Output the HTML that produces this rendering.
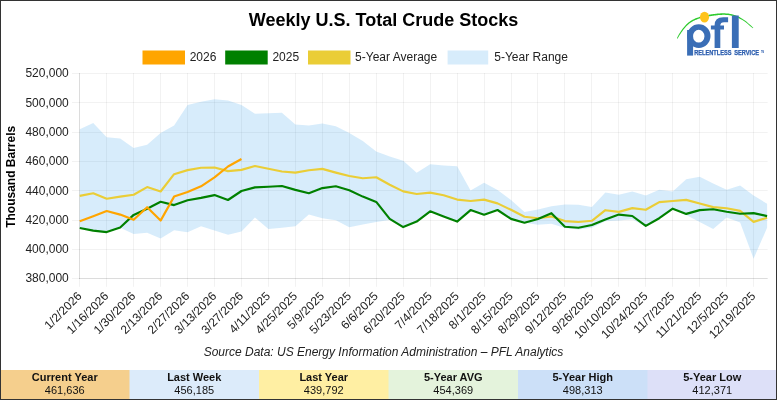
<!DOCTYPE html>
<html><head><meta charset="utf-8"><title>Weekly U.S. Total Crude Stocks</title>
<style>
html,body{margin:0;padding:0;background:#fff;}
body{width:777px;height:400px;overflow:hidden;position:relative;font-family:"Liberation Sans",sans-serif;}
svg{position:absolute;left:0;top:0;will-change:transform;}
svg text{font-family:"Liberation Sans",sans-serif;}
.frame{position:absolute;left:0;top:0;width:775px;height:398px;border:1px solid #333;border-right-width:1px;pointer-events:none;}
.foot{position:absolute;left:1px;top:370px;width:775px;height:29px;display:flex;}
.foot div{flex:1 1 0;text-align:center;font-size:12px;line-height:13px;color:#111;padding-top:1px;box-sizing:border-box;}
.foot b{display:block;font-size:12px;line-height:14px;}
</style></head><body>
<svg width="777" height="400" viewBox="0 0 777 400">
<rect width="777" height="400" fill="#fff"/>
<text x="383.5" y="26" text-anchor="middle" font-size="18" font-weight="bold" fill="#000">Weekly U.S. Total Crude Stocks</text>
<!-- legend -->
<rect x="142.5" y="50.5" width="42.5" height="14" fill="#FFA500"/>
<text x="189.7" y="61.3" font-size="12" fill="#222">2026</text>
<rect x="225.2" y="50.5" width="42.5" height="14" fill="#008000"/>
<text x="272.4" y="61.3" font-size="12" fill="#222">2025</text>
<rect x="308" y="50.5" width="42.5" height="14" fill="#EACD36"/>
<text x="355.1" y="61.3" font-size="12" fill="#222">5-Year Average</text>
<rect x="447.6" y="50.5" width="40.6" height="14" fill="#D7ECFB"/>
<text x="494.3" y="61.3" font-size="12" fill="#222">5-Year Range</text>
<text transform="translate(15,176.8) rotate(-90)" text-anchor="middle" font-size="12" font-weight="bold" fill="#000">Thousand Barrels</text>
<line x1="72.0" y1="73.50" x2="767.68" y2="73.50" stroke="rgba(0,0,0,0.05)" stroke-width="1"/>
<line x1="72.0" y1="102.50" x2="767.68" y2="102.50" stroke="rgba(0,0,0,0.05)" stroke-width="1"/>
<line x1="72.0" y1="132.50" x2="767.68" y2="132.50" stroke="rgba(0,0,0,0.05)" stroke-width="1"/>
<line x1="72.0" y1="161.50" x2="767.68" y2="161.50" stroke="rgba(0,0,0,0.05)" stroke-width="1"/>
<line x1="72.0" y1="190.50" x2="767.68" y2="190.50" stroke="rgba(0,0,0,0.05)" stroke-width="1"/>
<line x1="72.0" y1="220.50" x2="767.68" y2="220.50" stroke="rgba(0,0,0,0.05)" stroke-width="1"/>
<line x1="72.0" y1="249.50" x2="767.68" y2="249.50" stroke="rgba(0,0,0,0.05)" stroke-width="1"/>
<line x1="72.0" y1="278.50" x2="767.68" y2="278.50" stroke="rgba(0,0,0,0.05)" stroke-width="1"/>
<line x1="79.50" y1="73.0" x2="79.50" y2="286.8" stroke="rgba(0,0,0,0.05)" stroke-width="1"/>
<line x1="106.50" y1="73.0" x2="106.50" y2="286.8" stroke="rgba(0,0,0,0.05)" stroke-width="1"/>
<line x1="133.50" y1="73.0" x2="133.50" y2="286.8" stroke="rgba(0,0,0,0.05)" stroke-width="1"/>
<line x1="160.50" y1="73.0" x2="160.50" y2="286.8" stroke="rgba(0,0,0,0.05)" stroke-width="1"/>
<line x1="187.50" y1="73.0" x2="187.50" y2="286.8" stroke="rgba(0,0,0,0.05)" stroke-width="1"/>
<line x1="214.50" y1="73.0" x2="214.50" y2="286.8" stroke="rgba(0,0,0,0.05)" stroke-width="1"/>
<line x1="241.50" y1="73.0" x2="241.50" y2="286.8" stroke="rgba(0,0,0,0.05)" stroke-width="1"/>
<line x1="268.50" y1="73.0" x2="268.50" y2="286.8" stroke="rgba(0,0,0,0.05)" stroke-width="1"/>
<line x1="295.50" y1="73.0" x2="295.50" y2="286.8" stroke="rgba(0,0,0,0.05)" stroke-width="1"/>
<line x1="322.50" y1="73.0" x2="322.50" y2="286.8" stroke="rgba(0,0,0,0.05)" stroke-width="1"/>
<line x1="349.50" y1="73.0" x2="349.50" y2="286.8" stroke="rgba(0,0,0,0.05)" stroke-width="1"/>
<line x1="376.50" y1="73.0" x2="376.50" y2="286.8" stroke="rgba(0,0,0,0.05)" stroke-width="1"/>
<line x1="403.50" y1="73.0" x2="403.50" y2="286.8" stroke="rgba(0,0,0,0.05)" stroke-width="1"/>
<line x1="430.50" y1="73.0" x2="430.50" y2="286.8" stroke="rgba(0,0,0,0.05)" stroke-width="1"/>
<line x1="457.50" y1="73.0" x2="457.50" y2="286.8" stroke="rgba(0,0,0,0.05)" stroke-width="1"/>
<line x1="484.50" y1="73.0" x2="484.50" y2="286.8" stroke="rgba(0,0,0,0.05)" stroke-width="1"/>
<line x1="511.50" y1="73.0" x2="511.50" y2="286.8" stroke="rgba(0,0,0,0.05)" stroke-width="1"/>
<line x1="537.50" y1="73.0" x2="537.50" y2="286.8" stroke="rgba(0,0,0,0.05)" stroke-width="1"/>
<line x1="564.50" y1="73.0" x2="564.50" y2="286.8" stroke="rgba(0,0,0,0.05)" stroke-width="1"/>
<line x1="591.50" y1="73.0" x2="591.50" y2="286.8" stroke="rgba(0,0,0,0.05)" stroke-width="1"/>
<line x1="618.50" y1="73.0" x2="618.50" y2="286.8" stroke="rgba(0,0,0,0.05)" stroke-width="1"/>
<line x1="645.50" y1="73.0" x2="645.50" y2="286.8" stroke="rgba(0,0,0,0.05)" stroke-width="1"/>
<line x1="672.50" y1="73.0" x2="672.50" y2="286.8" stroke="rgba(0,0,0,0.05)" stroke-width="1"/>
<line x1="699.50" y1="73.0" x2="699.50" y2="286.8" stroke="rgba(0,0,0,0.05)" stroke-width="1"/>
<line x1="726.50" y1="73.0" x2="726.50" y2="286.8" stroke="rgba(0,0,0,0.05)" stroke-width="1"/>
<line x1="753.50" y1="73.0" x2="753.50" y2="286.8" stroke="rgba(0,0,0,0.05)" stroke-width="1"/>
<line x1="79.5" y1="73.0" x2="79.5" y2="279.0" stroke="rgba(0,0,0,0.09)" stroke-width="1"/>
<line x1="79.0" y1="278.5" x2="767.68" y2="278.5" stroke="rgba(0,0,0,0.09)" stroke-width="1"/>
<polygon points="79.75,129.30 93.23,123.10 106.70,137.30 120.18,138.50 133.66,148.10 147.13,144.70 160.61,133.10 174.09,125.40 187.57,105.10 201.04,101.70 214.52,99.20 228.00,100.40 241.47,105.10 254.95,113.80 268.43,113.30 281.90,112.80 295.38,124.60 308.86,125.40 322.34,123.60 335.81,126.20 349.29,133.10 362.77,141.10 376.24,151.40 389.72,156.60 403.20,160.70 416.68,172.80 430.15,164.30 443.63,165.60 457.11,166.30 470.58,190.50 484.06,182.80 497.54,190.00 511.01,200.00 524.49,211.90 537.97,209.60 551.44,206.30 564.92,204.50 578.40,204.80 591.88,207.00 605.35,192.50 618.83,194.70 632.31,191.40 645.78,195.60 659.26,189.70 672.74,191.60 686.22,179.30 699.69,176.80 713.17,183.50 726.65,189.70 740.12,185.50 753.60,195.60 767.08,203.70 767.08,227.80 753.60,258.70 740.12,222.60 726.65,217.40 713.17,229.00 699.69,222.00 686.22,215.00 672.74,208.70 659.26,218.20 645.78,226.70 632.31,219.30 618.83,220.60 605.35,221.30 591.88,227.70 578.40,229.40 564.92,228.00 551.44,223.80 537.97,224.80 524.49,222.70 511.01,219.00 497.54,210.00 484.06,214.70 470.58,210.10 457.11,221.60 443.63,216.60 430.15,211.30 416.68,221.60 403.20,227.20 389.72,220.00 376.24,222.00 362.77,224.60 349.29,227.20 335.81,220.30 322.34,218.20 308.86,214.40 295.38,226.20 281.90,227.70 268.43,229.00 254.95,217.50 241.47,231.40 228.00,234.80 214.52,230.40 201.04,226.30 187.57,232.20 174.09,230.20 160.61,238.60 147.13,232.70 133.66,234.00 120.18,227.80 106.70,232.50 93.23,230.70 79.75,228.10" fill="rgba(54,162,235,0.2)"/>
<polyline points="79.75,195.90 93.23,193.30 106.70,198.70 120.18,196.60 133.66,194.80 147.13,187.10 160.61,191.50 174.09,174.20 187.57,170.10 201.04,167.80 214.52,167.50 228.00,171.10 241.47,169.90 254.95,166.00 268.43,168.70 281.90,171.50 295.38,172.60 308.86,170.20 322.34,168.90 335.81,172.60 349.29,176.00 362.77,178.20 376.24,177.30 389.72,184.80 403.20,191.40 416.68,194.00 430.15,192.60 443.63,195.20 457.11,199.60 470.58,201.00 484.06,199.60 497.54,203.40 511.01,209.80 524.49,216.80 537.97,218.20 551.44,216.40 564.92,221.10 578.40,222.00 591.88,220.80 605.35,210.20 618.83,211.90 632.31,208.10 645.78,209.80 659.26,202.10 672.74,201.00 686.22,199.90 699.69,203.50 713.17,207.10 726.65,208.20 740.12,210.90 753.60,221.90 767.08,217.80" fill="none" stroke="#EACD36" stroke-width="2.15" stroke-linejoin="round" stroke-linecap="butt"/>
<polyline points="79.75,228.00 93.23,230.60 106.70,232.10 120.18,227.50 133.66,214.90 147.13,208.70 160.61,201.80 174.09,205.10 187.57,200.20 201.04,197.90 214.52,195.10 228.00,200.00 241.47,191.00 254.95,187.40 268.43,186.70 281.90,186.00 295.38,189.90 308.86,193.20 322.34,188.10 335.81,186.30 349.29,190.20 362.77,196.60 376.24,201.90 389.72,218.80 403.20,227.10 416.68,221.60 430.15,211.30 443.63,216.60 457.11,221.60 470.58,210.10 484.06,214.70 497.54,210.00 511.01,218.90 524.49,222.70 537.97,219.00 551.44,213.20 564.92,226.80 578.40,227.80 591.88,225.00 605.35,219.50 618.83,214.60 632.31,216.00 645.78,225.90 659.26,218.20 672.74,208.70 686.22,213.90 699.69,210.10 713.17,209.30 726.65,211.70 740.12,213.70 753.60,213.10 767.08,216.10" fill="none" stroke="#008000" stroke-width="2.15" stroke-linejoin="round" stroke-linecap="butt"/>
<polyline points="79.75,221.30 93.23,216.20 106.70,211.00 120.18,214.60 133.66,219.80 147.13,207.20 160.61,220.60 174.09,196.60 187.57,192.00 201.04,186.30 214.52,177.30 228.00,166.50 241.47,159.00" fill="none" stroke="#FFA500" stroke-width="2.15" stroke-linejoin="round" stroke-linecap="butt"/>
<text x="68.8" y="77.44" text-anchor="end" font-size="12" fill="#222">520,000</text>
<text x="68.8" y="106.73" text-anchor="end" font-size="12" fill="#222">500,000</text>
<text x="68.8" y="136.01" text-anchor="end" font-size="12" fill="#222">480,000</text>
<text x="68.8" y="165.30" text-anchor="end" font-size="12" fill="#222">460,000</text>
<text x="68.8" y="194.58" text-anchor="end" font-size="12" fill="#222">440,000</text>
<text x="68.8" y="223.87" text-anchor="end" font-size="12" fill="#222">420,000</text>
<text x="68.8" y="253.15" text-anchor="end" font-size="12" fill="#222">400,000</text>
<text x="68.8" y="282.44" text-anchor="end" font-size="12" fill="#222">380,000</text>
<text transform="translate(82.35,296.89) rotate(-45)" text-anchor="end" font-size="12" fill="#222">1/2/2026</text>
<text transform="translate(109.30,296.89) rotate(-45)" text-anchor="end" font-size="12" fill="#222">1/16/2026</text>
<text transform="translate(136.26,296.89) rotate(-45)" text-anchor="end" font-size="12" fill="#222">1/30/2026</text>
<text transform="translate(163.21,296.89) rotate(-45)" text-anchor="end" font-size="12" fill="#222">2/13/2026</text>
<text transform="translate(190.17,296.89) rotate(-45)" text-anchor="end" font-size="12" fill="#222">2/27/2026</text>
<text transform="translate(217.12,296.89) rotate(-45)" text-anchor="end" font-size="12" fill="#222">3/13/2026</text>
<text transform="translate(244.07,296.89) rotate(-45)" text-anchor="end" font-size="12" fill="#222">3/27/2026</text>
<text transform="translate(271.03,296.89) rotate(-45)" text-anchor="end" font-size="12" fill="#222">4/11/2025</text>
<text transform="translate(297.98,296.89) rotate(-45)" text-anchor="end" font-size="12" fill="#222">4/25/2025</text>
<text transform="translate(324.94,296.89) rotate(-45)" text-anchor="end" font-size="12" fill="#222">5/9/2025</text>
<text transform="translate(351.89,296.89) rotate(-45)" text-anchor="end" font-size="12" fill="#222">5/23/2025</text>
<text transform="translate(378.84,296.89) rotate(-45)" text-anchor="end" font-size="12" fill="#222">6/6/2025</text>
<text transform="translate(405.80,296.89) rotate(-45)" text-anchor="end" font-size="12" fill="#222">6/20/2025</text>
<text transform="translate(432.75,296.89) rotate(-45)" text-anchor="end" font-size="12" fill="#222">7/4/2025</text>
<text transform="translate(459.71,296.89) rotate(-45)" text-anchor="end" font-size="12" fill="#222">7/18/2025</text>
<text transform="translate(486.66,296.89) rotate(-45)" text-anchor="end" font-size="12" fill="#222">8/1/2025</text>
<text transform="translate(513.61,296.89) rotate(-45)" text-anchor="end" font-size="12" fill="#222">8/15/2025</text>
<text transform="translate(540.57,296.89) rotate(-45)" text-anchor="end" font-size="12" fill="#222">8/29/2025</text>
<text transform="translate(567.52,296.89) rotate(-45)" text-anchor="end" font-size="12" fill="#222">9/12/2025</text>
<text transform="translate(594.48,296.89) rotate(-45)" text-anchor="end" font-size="12" fill="#222">9/26/2025</text>
<text transform="translate(621.43,296.89) rotate(-45)" text-anchor="end" font-size="12" fill="#222">10/10/2025</text>
<text transform="translate(648.38,296.89) rotate(-45)" text-anchor="end" font-size="12" fill="#222">10/24/2025</text>
<text transform="translate(675.34,296.89) rotate(-45)" text-anchor="end" font-size="12" fill="#222">11/7/2025</text>
<text transform="translate(702.29,296.89) rotate(-45)" text-anchor="end" font-size="12" fill="#222">11/21/2025</text>
<text transform="translate(729.25,296.89) rotate(-45)" text-anchor="end" font-size="12" fill="#222">12/5/2025</text>
<text transform="translate(756.20,296.89) rotate(-45)" text-anchor="end" font-size="12" fill="#222">12/19/2025</text>
<text x="383.5" y="356.2" text-anchor="middle" font-size="12" font-style="italic" fill="#222">Source Data: US Energy Information Administration – PFL Analytics</text>
<g id="logo">
<polygon points="676.96,38.37 677.15,37.81 677.48,37.11 677.90,36.26 678.39,35.32 678.95,34.33 679.57,33.32 680.27,32.25 681.05,31.08 681.90,29.85 682.79,28.62 683.68,27.45 684.54,26.40 685.38,25.46 686.22,24.58 687.06,23.77 687.91,23.02 688.75,22.31 689.60,21.65 690.45,21.04 691.31,20.50 692.16,20.01 693.01,19.56 693.86,19.14 694.70,18.74 695.55,18.36 696.40,18.01 697.25,17.69 698.10,17.40 698.94,17.13 699.78,16.87 700.63,16.62 701.48,16.40 702.33,16.19 703.16,16.00 704.00,15.82 704.83,15.63 705.67,15.45 706.50,15.27 707.34,15.09 708.18,14.92 709.02,14.76 709.87,14.61 710.71,14.47 711.55,14.35 712.39,14.23 713.23,14.11 714.07,14.01 714.90,13.91 715.74,13.81 716.58,13.71 717.42,13.62 718.26,13.54 719.11,13.47 719.95,13.41 720.79,13.37 721.64,13.33 722.48,13.31 723.33,13.30 724.18,13.31 725.03,13.34 725.88,13.38 726.72,13.44 727.57,13.52 728.42,13.62 729.27,13.74 730.13,13.88 731.00,14.06 731.88,14.27 732.76,14.51 733.62,14.75 734.44,15.01 735.20,15.25 735.87,15.48 736.46,15.68 737.03,15.89 737.61,16.14 738.27,16.46 739.03,16.86 739.91,17.34 740.86,17.88 741.89,18.48 742.98,19.16 744.12,19.93 745.31,20.79 746.65,21.85 748.17,23.14 749.73,24.50 751.20,25.81 752.44,26.94 753.28,27.79 752.92,28.21 751.95,27.51 750.66,26.44 749.15,25.18 747.56,23.86 746.03,22.62 744.69,21.61 743.52,20.81 742.39,20.09 741.32,19.46 740.30,18.89 739.34,18.39 738.47,17.94 737.72,17.57 737.11,17.30 736.57,17.10 736.04,16.92 735.46,16.75 734.80,16.55 734.04,16.32 733.23,16.09 732.40,15.87 731.55,15.66 730.70,15.47 729.87,15.32 729.06,15.19 728.24,15.09 727.43,15.01 726.61,14.94 725.79,14.90 724.97,14.86 724.15,14.85 723.34,14.85 722.52,14.86 721.70,14.89 720.87,14.94 720.05,14.99 719.23,15.05 718.41,15.12 717.58,15.20 716.76,15.29 715.93,15.39 715.10,15.49 714.27,15.59 713.44,15.70 712.61,15.81 711.78,15.93 710.96,16.05 710.13,16.19 709.31,16.33 708.48,16.49 707.66,16.65 706.83,16.82 706.00,16.99 705.17,17.17 704.33,17.35 703.50,17.53 702.67,17.71 701.85,17.90 701.03,18.10 700.22,18.33 699.39,18.58 698.57,18.83 697.75,19.11 696.93,19.40 696.12,19.71 695.30,20.06 694.48,20.44 693.65,20.83 692.84,21.24 692.02,21.69 691.21,22.19 690.40,22.75 689.58,23.36 688.76,24.02 687.94,24.73 687.11,25.49 686.29,26.31 685.46,27.20 684.61,28.20 683.72,29.33 682.82,30.51 681.96,31.71 681.15,32.85 680.43,33.88 679.79,34.84 679.21,35.79 678.68,36.69 678.21,37.49 677.81,38.17 677.44,38.63" fill="#2FCB2F"/>
<ellipse cx="704.5" cy="17.15" rx="4.55" ry="5.4" fill="#FFC31A"/>
<rect x="687.1" y="30" width="6" height="25.6" fill="#3A6EB6"/>
<path fill-rule="evenodd" fill="#3A6EB6" d="M687.1,36.1 a11.7,11.8 0 1 0 23.4,0 a11.7,11.8 0 1 0 -23.4,0 z M692.95,36.2 a5.75,6.4 0 1 1 11.5,0 a5.75,6.4 0 1 1 -11.5,0 z"/>
<path d="M714.6,48 V25.3 q0,-8 8.6,-8 h4.9 v5 h-4 q-3.8,0 -3.8,3.4 V48 z" fill="#3A6EB6"/>
<rect x="710.9" y="25.5" width="13.1" height="4" fill="#3A6EB6"/>
<rect x="731.9" y="15.5" width="6.8" height="32.5" fill="#3A6EB6"/>
<text x="694.2" y="55.45" font-size="6.5" font-weight="bold" fill="#2A5CAE" stroke="#2A5CAE" stroke-width="0.25" textLength="37.4" lengthAdjust="spacingAndGlyphs">RELENTLESS</text>
<text x="734.2" y="55.45" font-size="6.5" font-weight="bold" fill="#2A5CAE" stroke="#2A5CAE" stroke-width="0.25" textLength="24.9" lengthAdjust="spacingAndGlyphs">SERVICE</text>
<text x="761" y="52.6" font-size="2.6" font-weight="bold" fill="#2A5CAE" textLength="3.2" lengthAdjust="spacingAndGlyphs">TM</text>
</g>
<rect x="0.00" y="370" width="130.00" height="30" fill="#F5CF8D"/>
<text x="64.75" y="380.6" text-anchor="middle" font-size="11" font-weight="bold" fill="#111">Current Year</text>
<text x="64.75" y="393.7" text-anchor="middle" font-size="11" fill="#111">461,636</text>
<rect x="129.50" y="370" width="130.00" height="30" fill="#DCEBFA"/>
<text x="194.25" y="380.6" text-anchor="middle" font-size="11" font-weight="bold" fill="#111">Last Week</text>
<text x="194.25" y="393.7" text-anchor="middle" font-size="11" fill="#111">456,185</text>
<rect x="259.00" y="370" width="130.00" height="30" fill="#FFEFA3"/>
<text x="323.75" y="380.6" text-anchor="middle" font-size="11" font-weight="bold" fill="#111">Last Year</text>
<text x="323.75" y="393.7" text-anchor="middle" font-size="11" fill="#111">439,792</text>
<rect x="388.50" y="370" width="130.00" height="30" fill="#E4F3DC"/>
<text x="453.25" y="380.6" text-anchor="middle" font-size="11" font-weight="bold" fill="#111">5-Year AVG</text>
<text x="453.25" y="393.7" text-anchor="middle" font-size="11" fill="#111">454,369</text>
<rect x="518.00" y="370" width="130.00" height="30" fill="#CCE0F8"/>
<text x="582.75" y="380.6" text-anchor="middle" font-size="11" font-weight="bold" fill="#111">5-Year High</text>
<text x="582.75" y="393.7" text-anchor="middle" font-size="11" fill="#111">498,313</text>
<rect x="647.50" y="370" width="130.00" height="30" fill="#DDE0F8"/>
<text x="712.25" y="380.6" text-anchor="middle" font-size="11" font-weight="bold" fill="#111">5-Year Low</text>
<text x="712.25" y="393.7" text-anchor="middle" font-size="11" fill="#111">412,371</text>
</svg>
<div class="frame"></div>
</body></html>
